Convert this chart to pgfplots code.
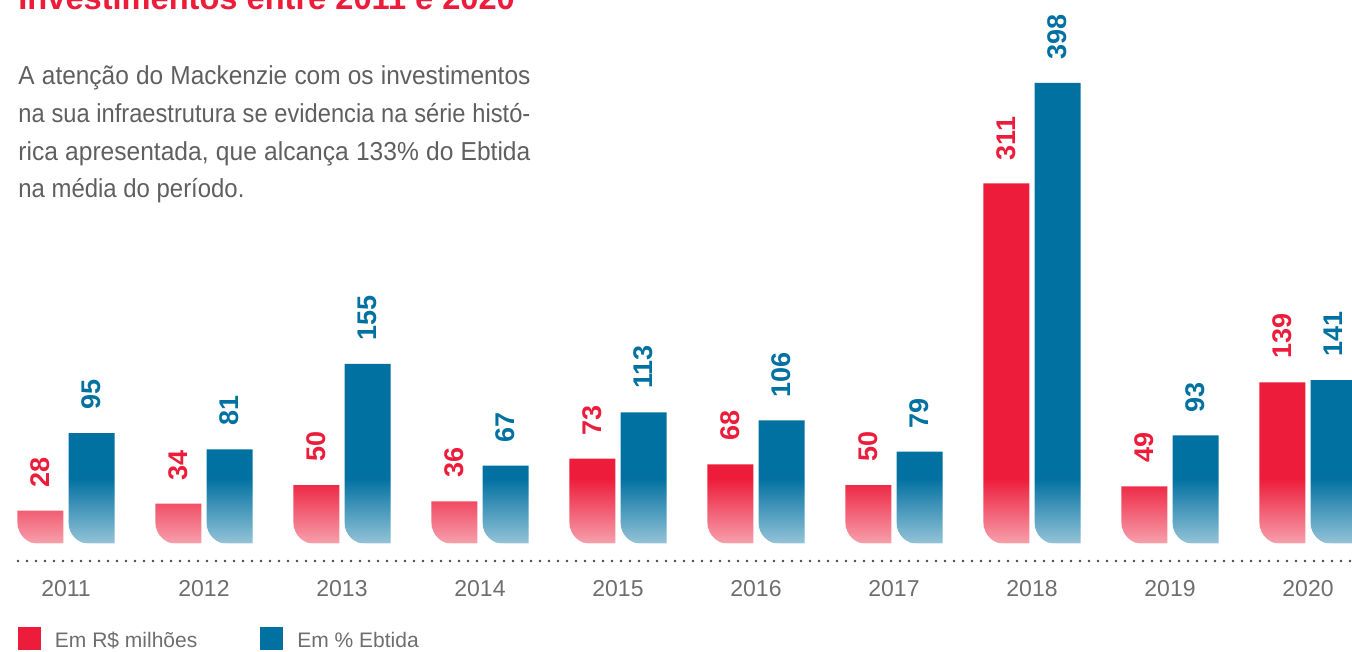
\documentclass[border=0pt]{standalone}
\usepackage{pgfplots}
\pgfplotsset{compat=1.18}
\usepackage{pgfplotstable}
\usepackage{fontspec}
\setmainfont{Liberation Sans}
\newfontfamily\bodyA{Liberation Sans}[FakeStretch=0.94]
\newfontfamily\bodyB{Liberation Sans}[FakeStretch=0.91]
\newfontfamily\bodyC{Liberation Sans}[FakeStretch=0.945]
\newfontfamily\bodyD{Liberation Sans}[FakeStretch=0.92]
\usetikzlibrary{fadings}
\definecolor{cRed}{HTML}{ED1C3A}
\definecolor{cBlue}{HTML}{0071A1}
\definecolor{cBody}{HTML}{5F5F5F}
\definecolor{cYear}{HTML}{6E6E6E}
\definecolor{cDot}{HTML}{474747}
\tikzfading[name=barfade, top color=transparent!100, bottom color=transparent!42]

\pgfplotstableread{
x inv ebtida
0 28 95
1 34 81
2 50 155
3 36 67
4 73 113
5 68 106
6 50 79
7 311 398
8 49 93
9 139 141
}\datatable

\begin{document}
\begin{tikzpicture}
\begin{axis}[
  scale only axis, width=676pt, height=325.5pt,
  xmin=-0.47826, xmax=9.31884, ymin=-93.43, ymax=469.72,
  clip=false,
  /pgf/number format/assume math mode=true,
  axis x line*=bottom, axis y line=none,
  x axis line style={draw=none},
  xtick={0,1,2,3,4,5,6,7,8,9},
  xticklabels={2011,2012,2013,2014,2015,2016,2017,2018,2019,2020},
  major tick length=0pt, xtick style={draw=none},
  xticklabel style={anchor=center, yshift=31pt, font=\fontsize{11.5}{11.5}\selectfont, text=cYear},
  ybar, bar width=0.3333,
  legend columns=2,
  legend style={at={(axis description cs:0.01331,0.0375)}, anchor=north west, draw=none, fill=none,
    inner sep=0pt, outer sep=0pt, font=\fontsize{10.5}{10.5}\selectfont, text=cYear,
    /tikz/every odd column/.append style={column sep=7pt},
    /tikz/every even column/.append style={column sep=31.5pt},
    nodes={inner sep=0pt}},
  legend image code/.code={\fill[#1] (0pt,-4pt) rectangle (11.5pt,7.5pt);},
]
\addplot[fill=cRed, draw=none, bar shift=-0.185] table[x=x,y=inv]{\datatable};
\addlegendentry{Em R\$ milhões}
\addplot[fill=cBlue, draw=none, bar shift=0.185] table[x=x,y=ebtida]{\datatable};
\addlegendentry{Em \% Ebtida}
% light gradient at the foot of the bars
\fill[white, path fading=barfade] (axis cs:-0.4,0) rectangle (axis cs:9.4,56.3);
% rounded lower-left corners
\pgfplotsinvokeforeach{0,1,2,3,4,5,6,7,8,9}{
  \fill[white] (axis cs:#1-0.35167,0) ++(-0.5pt,-0.5pt) -- ++(11pt,0pt) arc[start angle=270, end angle=180, radius=10.5pt] -- cycle;
  \fill[white] (axis cs:#1+0.01833,0) ++(-0.5pt,-0.5pt) -- ++(11pt,0pt) arc[start angle=270, end angle=180, radius=10.5pt] -- cycle;
}
% value labels
\addplot[draw=none, fill=none, bar shift=-0.185, forget plot, nodes near coords,
  nodes near coords style={rotate=90, anchor=west, inner xsep=11.5pt, inner ysep=0pt,
    font=\bfseries\fontsize{13.5}{13.5}\selectfont, text=cRed}] table[x=x,y=inv]{\datatable};
\addplot[draw=none, fill=none, bar shift=0.185, forget plot, nodes near coords,
  nodes near coords style={rotate=90, anchor=west, inner xsep=11.5pt, inner ysep=0pt,
    font=\bfseries\fontsize{13.5}{13.5}\selectfont, text=cBlue}] table[x=x,y=ebtida]{\datatable};
% dotted baseline
\draw[cDot, line width=1.3pt, line cap=round, dash pattern=on 0pt off 4.5pt] (axis cs:-0.3478,-15.57) -- (axis cs:9.4,-15.57);
% title and text
\node[anchor=base west, inner sep=0pt, text=cRed, font=\bfseries\fontsize{16.3}{16.3}\selectfont] at (axis cs:-0.3478,461.1) {Investimentos entre 2011 e 2020};
\node[anchor=base west, inner sep=0pt, text=cBody, font=\bodyA\fontsize{13}{13}\selectfont] at (axis cs:-0.3478,396.2) {\makebox[256pt][s]{A atenção do Mackenzie com os investimentos}};
\node[anchor=base west, inner sep=0pt, text=cBody, font=\bodyB\fontsize{13}{13}\selectfont] at (axis cs:-0.3478,363.7) {\makebox[256pt][s]{na sua infraestrutura se evidencia na série histó-}};
\node[anchor=base west, inner sep=0pt, text=cBody, font=\bodyC\fontsize{13}{13}\selectfont] at (axis cs:-0.3478,331.1) {\makebox[256pt][s]{rica apresentada, que alcança 133\% do Ebtida}};
\node[anchor=base west, inner sep=0pt, text=cBody, font=\bodyD\fontsize{13}{13}\selectfont] at (axis cs:-0.3478,298.6) {na média do período.};
\end{axis}
\pgfresetboundingbox
\path[use as bounding box] (current axis.south west) rectangle (current axis.north east);
\end{tikzpicture}
\end{document}
